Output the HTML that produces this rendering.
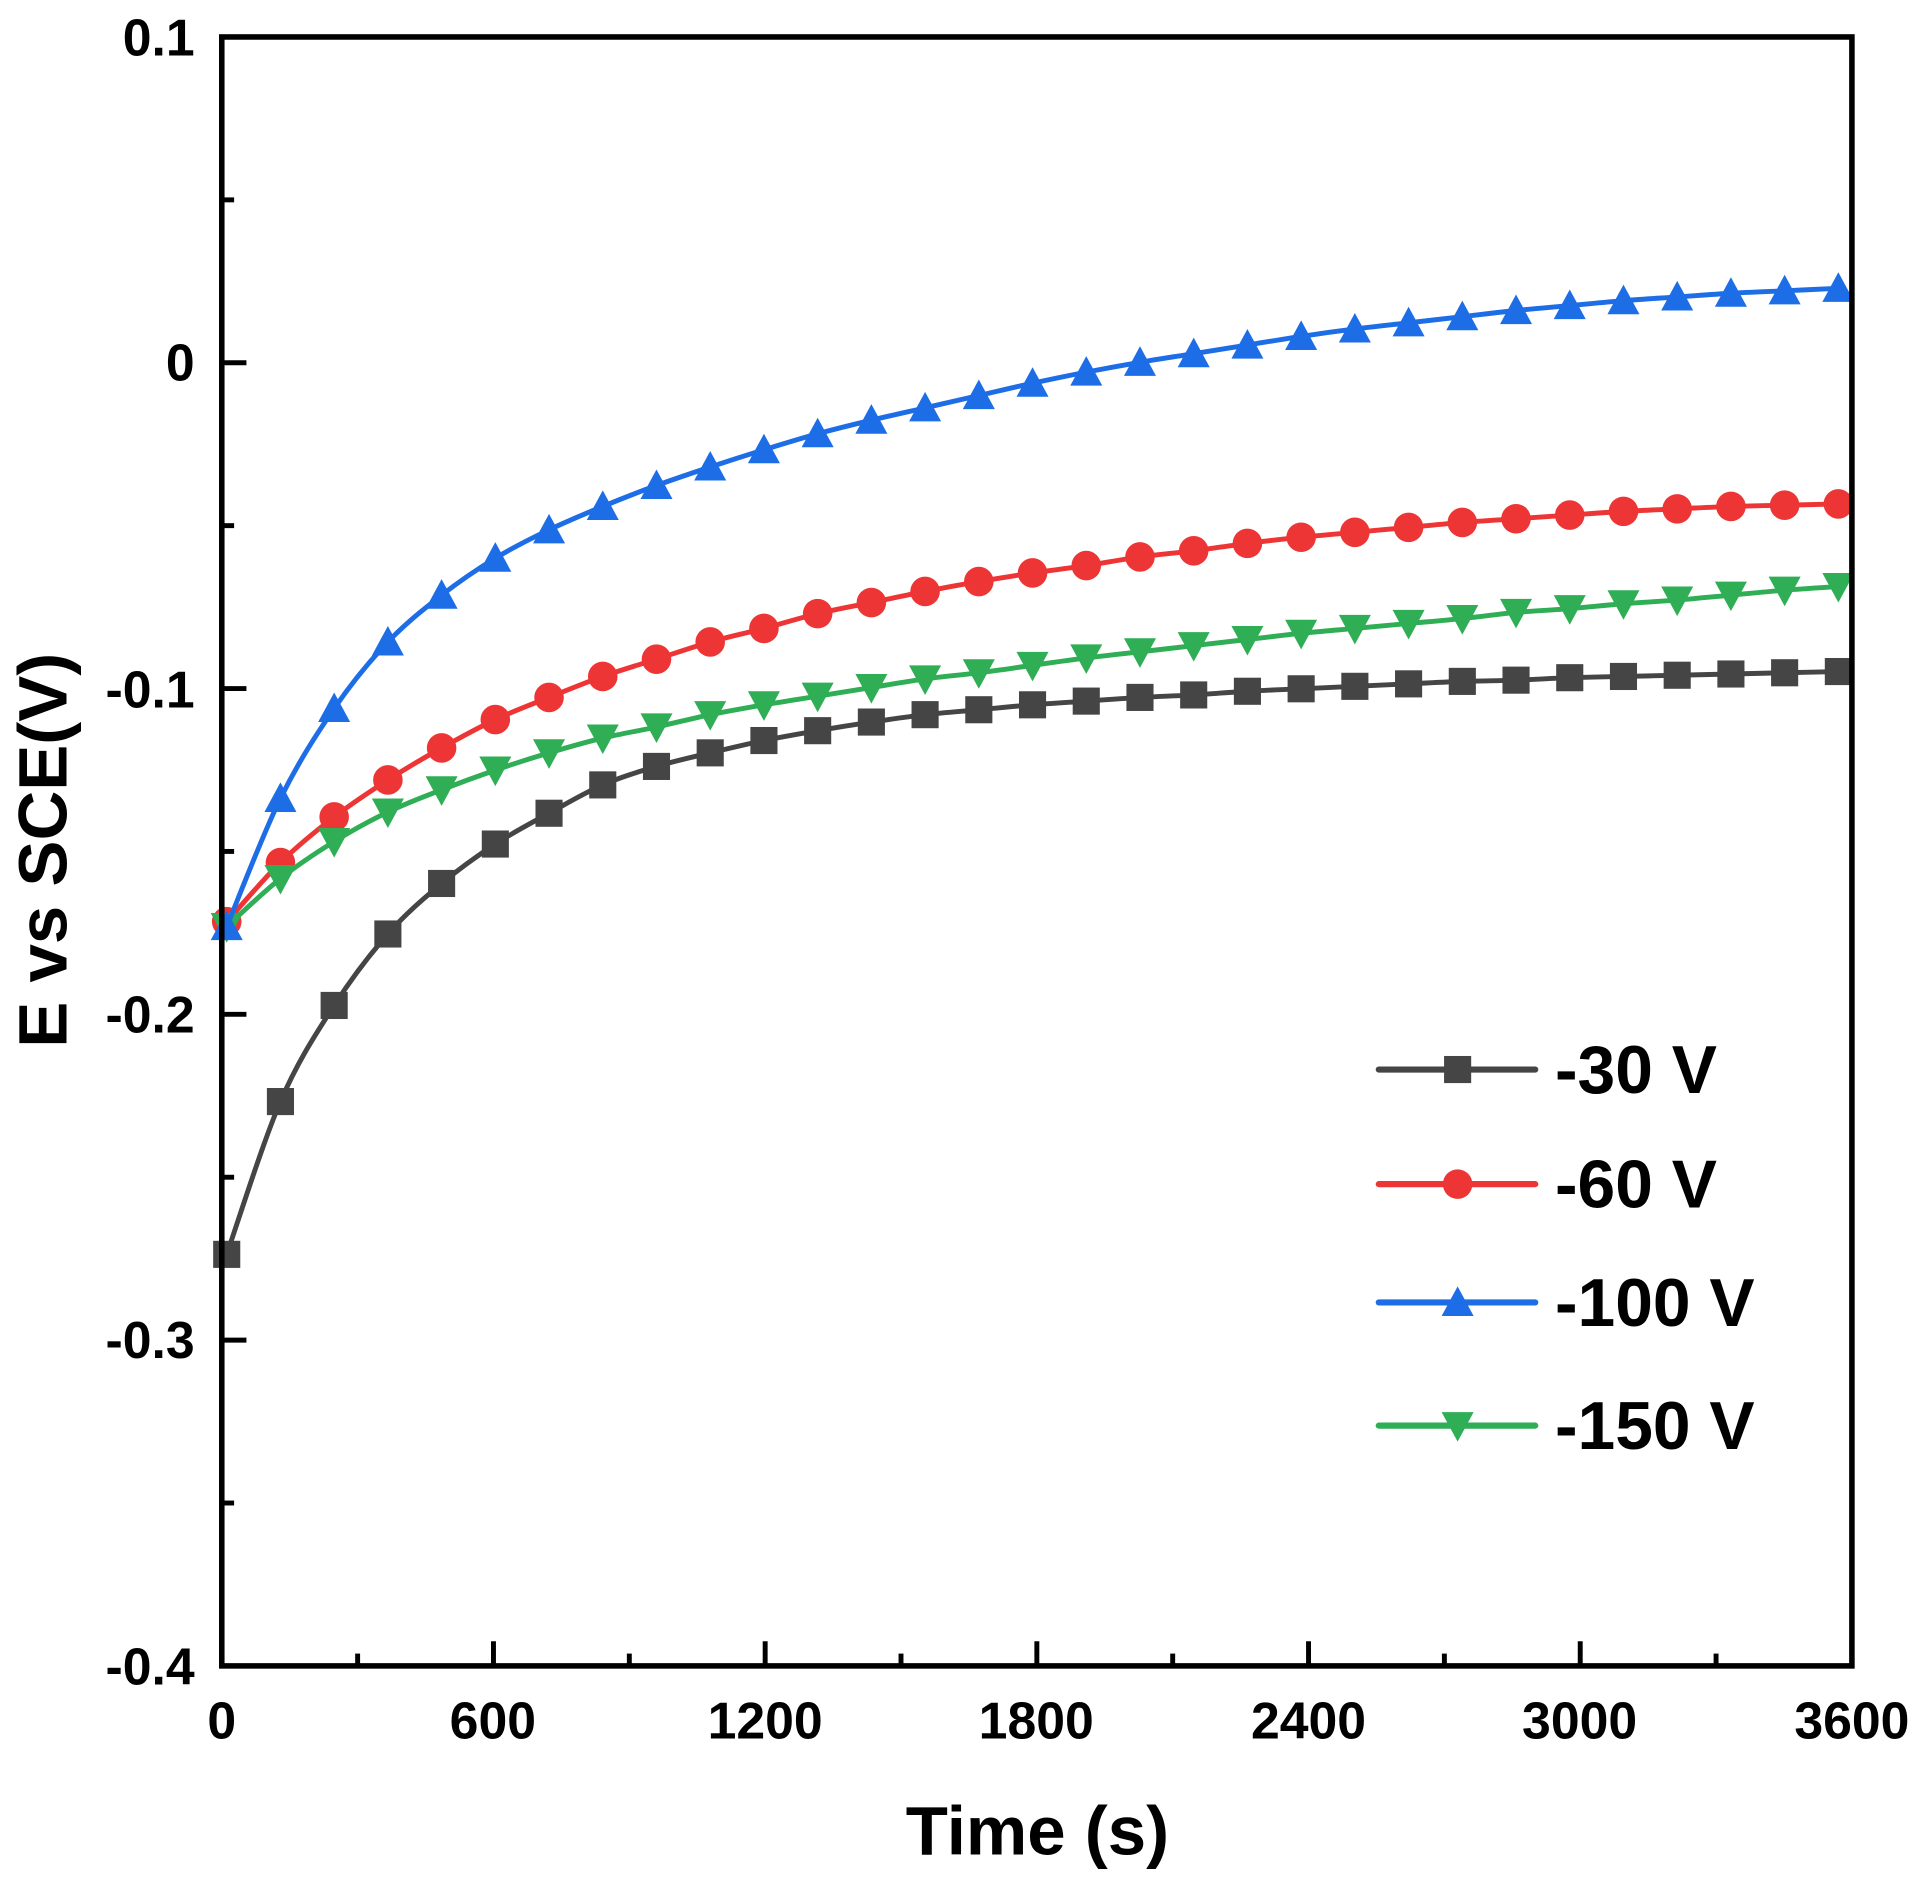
<!DOCTYPE html>
<html><head><meta charset="utf-8"><style>html,body{margin:0;padding:0;background:#fff}svg{display:block}</style></head>
<body>
<svg id="s" width="1932" height="1884" viewBox="0 0 1568 1529" preserveAspectRatio="none" xmlns="http://www.w3.org/2000/svg" font-family="Liberation Sans, Arial, sans-serif" font-weight="bold">
<g id="series"></g>
<rect x="180" y="30" width="1323" height="1322" fill="none" stroke="#000" stroke-width="4.5"/>
<g id="ticks" stroke="#000" stroke-width="4"></g>
<g font-size="42" text-anchor="end" fill="#000">
<text x="158" y="45">0.1</text><text x="158" y="309">0</text><text x="158" y="574">-0.1</text>
<text x="158" y="838">-0.2</text><text x="158" y="1102">-0.3</text><text x="158" y="1367">-0.4</text>
</g>
<g font-size="42" text-anchor="middle" fill="#000">
<text x="180" y="1411">0</text><text x="400" y="1411">600</text><text x="621" y="1411">1200</text>
<text x="841" y="1411">1800</text><text x="1062" y="1411">2400</text><text x="1282" y="1411">3000</text><text x="1503" y="1411">3600</text>
</g>
<text x="842" y="1505" font-size="56" text-anchor="middle">Time (s)</text>
<text transform="translate(54,690) rotate(-90)" font-size="56" text-anchor="middle">E vs SCE(V)</text>
<g id="legend" font-size="55"></g>
</svg>
<script>
const NS="http://www.w3.org/2000/svg";
function el(t,a,p){const e=document.createElementNS(NS,t);for(const k in a)e.setAttribute(k,a[k]);p.appendChild(e);return e;}
const T=document.getElementById('ticks');
for(let i=0;i<=10;i++){const y=30+i*132.2;el('line',{x1:180,x2:180+(i%2?10:20),y1:y,y2:y},T);}
for(let i=0;i<=12;i++){const x=180+i*110.25;el('line',{x1:x,x2:x,y1:1352,y2:1352-(i%2?10:20)},T);}
const D={
k:{c:"#454545",m:"sq",y:[1018,894,816,758,717,685,660,637,622,611,601,593,586,580,576,572,569,566,564,561,559,557,555,553,552,550,549,548,547,546,545]},
r:{c:"#ee3535",m:"ci",y:[748,700,663,633,607,584,566,549,535,521,510,498,489,480,472,465,459,452,447,441,436,432,428,424,421,418,415,413,411,410,409]},
b:{c:"#1d6ee6",m:"up",y:[752,648,575,521,483,453,430,411,394,379,365,352,341,331,321,311,302,294,287,280,273,267,262,257,252,248,244,241,238,236,234]},
g:{c:"#2fae55",m:"dn",y:[752,713,683,659,641,625,611,599,590,580,572,565,558,551,546,540,534,529,524,519,514,510,506,502,497,494,490,487,483,479,476]}};
const S=document.getElementById('series');
function mk(type,x,y,c,p){const s=11;
 if(type=="sq")el('rect',{x:x-s,y:y-s,width:2*s,height:2*s,fill:c},p);
 else if(type=="ci")el('circle',{cx:x,cy:y,r:s+1,fill:c},p);
 else if(type=="up")el('polygon',{points:`${x},${y-s-2} ${x-s-2},${y+s} ${x+s+2},${y+s}`,fill:c},p);
 else el('polygon',{points:`${x},${y+s+2} ${x-s-2},${y-s} ${x+s+2},${y-s}`,fill:c},p);}
function smooth(pts){let d=`M${pts[0][0]},${pts[0][1]}`;
 for(let i=0;i<pts.length-1;i++){const p0=pts[Math.max(0,i-1)],p1=pts[i],p2=pts[i+1],p3=pts[Math.min(pts.length-1,i+2)];
  const c1=[p1[0]+(p2[0]-p0[0])/6,p1[1]+(p2[1]-p0[1])/6],c2=[p2[0]-(p3[0]-p1[0])/6,p2[1]-(p3[1]-p1[1])/6];
  d+=` C${c1[0]},${c1[1]} ${c2[0]},${c2[1]} ${p2[0]},${p2[1]}`;}return d;}
for(const k of ["k","r","g","b"]){const d=D[k];const pts=d.y.map((y,i)=>[184+43.6*i,y]);
 el('path',{d:smooth(pts),fill:"none",stroke:d.c,"stroke-width":4,"stroke-linejoin":"round"},S);
 pts.forEach(p=>mk(d.m,p[0],p[1],d.c,S));}
const L=document.getElementById('legend');
[["k","-30 V",868],["r","-60 V",961],["b","-100 V",1057],["g","-150 V",1157]].forEach(([k,t,y])=>{
 const d=D[k];el('line',{x1:1119,x2:1246,y1:y,y2:y,stroke:d.c,"stroke-width":5,"stroke-linecap":"round"},L);
 mk(d.m,1183,y,d.c,L);const tx=el('text',{x:1262,y:y+19},L);tx.textContent=t;});
</script>
</body></html>
